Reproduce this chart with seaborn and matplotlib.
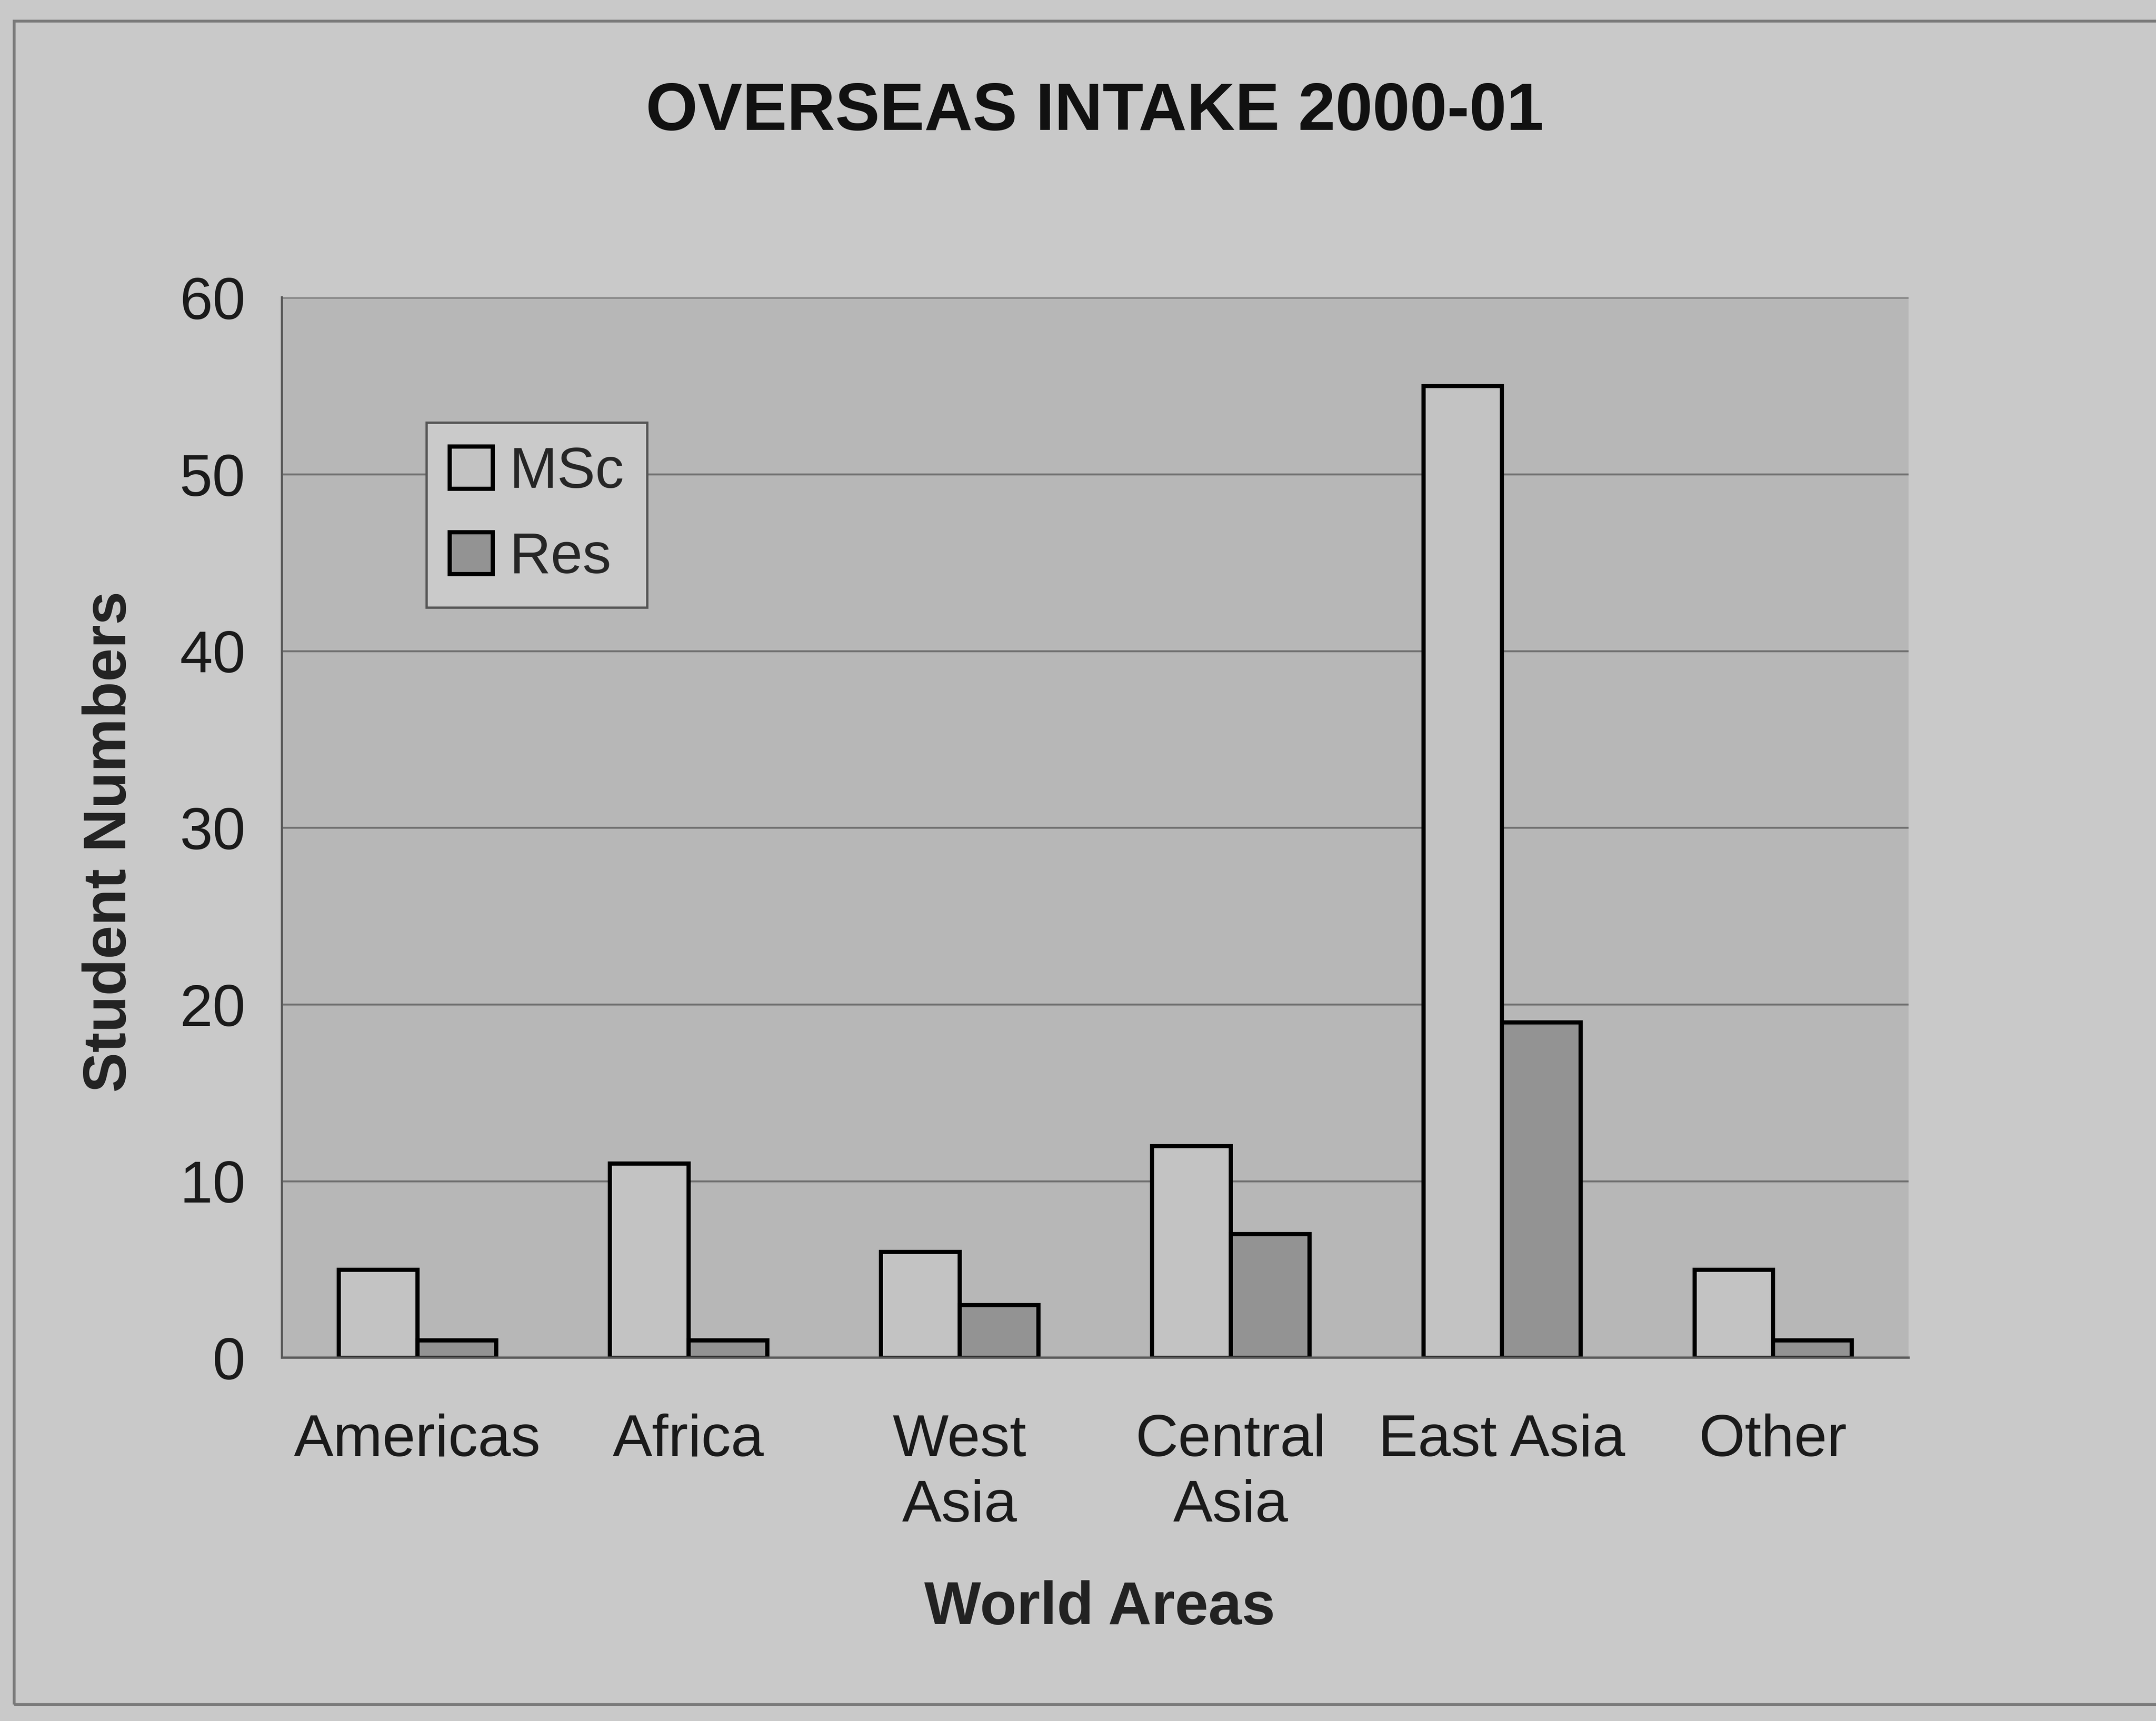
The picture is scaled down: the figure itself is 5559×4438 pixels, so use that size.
import matplotlib
matplotlib.use("Agg")
import matplotlib.pyplot as plt
import seaborn as sns
import pandas as pd
import numpy as np
from matplotlib.patches import Rectangle

# ---- data ----
categories = ["Americas", "Africa", "West\nAsia", "Central\nAsia", "East Asia", "Other"]
series = ["MSc", "Res"]
msc = [5, 11, 6, 12, 55, 5]
res = [1, 1, 3, 7, 19, 1]
y_ticks = [0, 10, 20, 30, 40, 50, 60]

df = pd.DataFrame({
    "Area": categories * 2,
    "Programme": ["MSc"] * len(categories) + ["Res"] * len(categories),
    "Students": msc + res,
})

sns.set_theme(style="white")
plt.rcParams["font.family"] = ["Liberation Sans", "DejaVu Sans"]

W, H = 15.68, 12.52
fig = plt.figure(figsize=(W, H), dpi=5559 / W)
fig.patch.set_facecolor("#c9c9c9")

# outer frame of the chart
fig.patches.append(Rectangle((0.0064, 0.0096), 1.2, 0.978, transform=fig.transFigure,
                             fill=False, edgecolor="#7a7a7a", linewidth=1.5))

ax = fig.add_axes([0.1307, 0.211, 0.7545, 0.616])
sns.barplot(data=df, x="Area", y="Students", hue="Programme",
            order=categories, hue_order=series,
            palette={"MSc": "#c3c3c3", "Res": "#939393"},
            width=0.58, saturation=1, errorbar=None,
            edgecolor="black", linewidth=2.2, ax=ax)

ax.set_facecolor("#b7b7b7")
ax.set_ylim(0, 60)
ax.set_xlim(-0.5, len(categories) - 0.5)
ax.set_yticks(y_ticks)
ax.set_yticklabels([str(v) for v in y_ticks])
ax.yaxis.grid(True, color="#6e6e6e", linewidth=1.0)
ax.xaxis.grid(False)
ax.set_axisbelow(True)

for s in ["top", "right"]:
    ax.spines[s].set_visible(False)
for s in ["left", "bottom"]:
    ax.spines[s].set_color("#5a5a5a")
    ax.spines[s].set_linewidth(1.2)

ax.set_xticks(np.arange(len(categories)))
ax.set_xticklabels(categories, linespacing=1.25)
ax.set_xticks(np.arange(-0.5, len(categories)), minor=True)
ax.tick_params(axis="x", which="major", length=0, pad=29, labelsize=31, colors="#1a1a1a")
ax.tick_params(axis="x", which="minor", length=7, width=1.2, color="#5a5a5a", direction="out")
ax.tick_params(axis="y", which="major", length=7, width=1.2, color="#5a5a5a",
               direction="out", pad=12, labelsize=31, labelcolor="#1a1a1a")
ax.set_xlabel("")
ax.set_ylabel("")

handles, labels = ax.get_legend_handles_labels()
leg = ax.legend(handles, labels, loc="upper left", bbox_to_anchor=(0.089, 0.882),
                borderaxespad=0, fontsize=30, frameon=True, fancybox=False,
                facecolor="#cacaca", edgecolor="#555555", framealpha=1,
                handlelength=0.75, handleheight=0.75, handletextpad=0.3,
                labelspacing=0.55, borderpad=0.4)
leg.get_frame().set_linewidth(1.2)

fig.text(0.5077, 0.9345, "OVERSEAS INTAKE 2000-01", ha="center", va="center",
         fontsize=35, fontweight="bold", color="#111111")
fig.text(0.510, 0.0655, "World Areas", ha="center", va="center",
         fontsize=31.5, fontweight="bold", color="#222222")
fig.text(0.051, 0.511, "Student Numbers", ha="center", va="center", rotation=90,
         fontsize=31.5, fontweight="bold", color="#222222")

fig.savefig("out.png", dpi=5559 / W, facecolor=fig.get_facecolor())
